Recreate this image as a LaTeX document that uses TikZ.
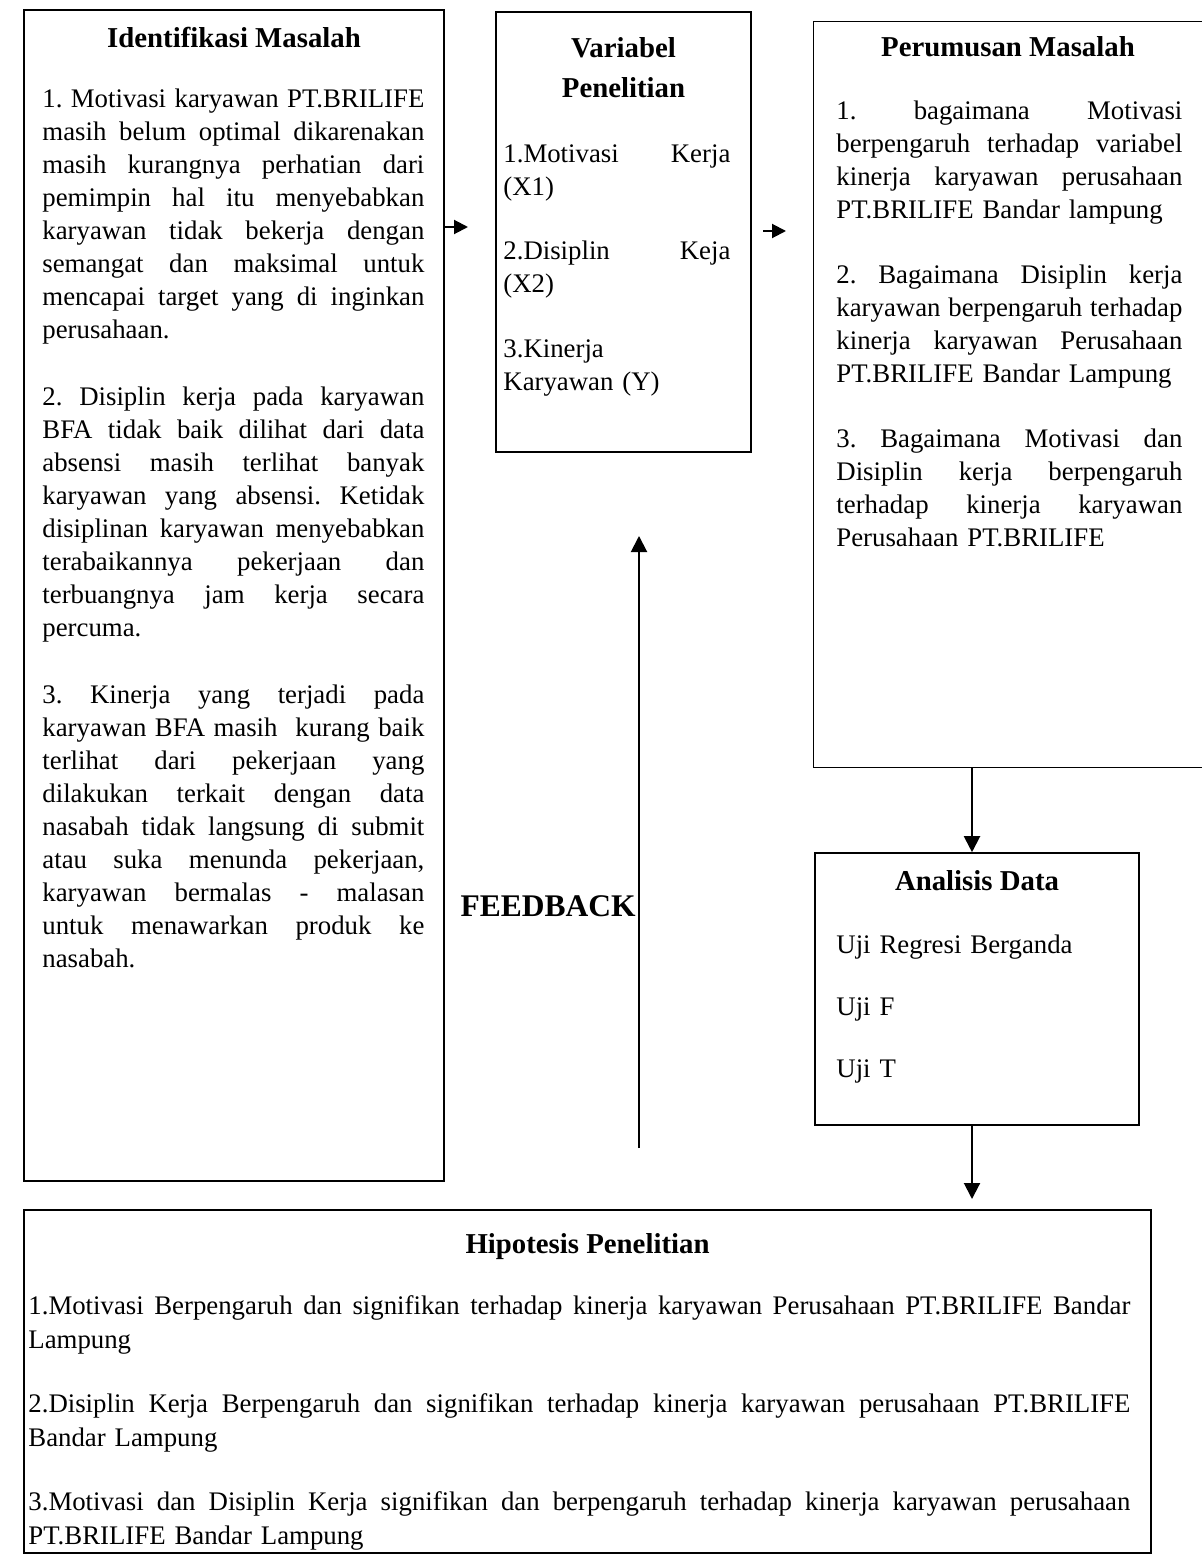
\documentclass[tikz,border=0pt]{standalone}
\usepackage{fontspec}
\setmainfont{Liberation Serif}
\usetikzlibrary{arrows.meta,fit}
\newdimen\lw
\def\jlsplit#1 #2\jlend{#1\if\relax\detokenize{#2}\relax\else\hfil\jlsplit#2\jlend\fi}
\newcommand\JL[1]{\hbox to\lw{\strut\jlsplit#1 \jlend}}
\newcommand\LL[1]{\hbox to\lw{\strut #1\hfil}}
\newcommand\bodyfont{\fontsize{13.4pt}{16.5pt}\selectfont\frenchspacing}
\newcommand\hipfont{\fontsize{13.4pt}{17pt}\selectfont\frenchspacing}
\newcommand\headfont{\fontsize{14.4pt}{16.5pt}\selectfont\bfseries}
\begin{document}
\begin{tikzpicture}[x=0.5pt,y=-0.5pt,
  boxline/.style={draw=black, line width=0.8pt},
  frame/.style={boxline, inner sep=0pt},
  head/.style={font=\headfont, anchor=base, inner sep=0pt},
  body/.style={font=\bodyfont, anchor=north west, inner sep=0pt, text width=#1},
  arr/.style={line width=1pt, -{Triangle[length=8pt,width=8pt]}},
  sarr/.style={line width=1pt, -{Triangle[length=7pt,width=7pt]}}]
\useasboundingbox (0,0) rectangle (1202,1562);
\fill[white] (0,0) rectangle (1202,1562);

% boxes
\node[frame, fit={(24,10)(444,1181)}] (b1) {};
\node[frame, fit={(496,12)(751,452)}] (b2) {};
\node[fit={(814,22)(1202,767)}, inner sep=0pt] (b3) {};
\draw[boxline] (b3.north east) -- (b3.north west) -- (b3.south west) -- (b3.south east);
\node[frame, fit={(815,853)(1139,1125)}] (b4) {};
\node[frame, fit={(24,1210)(1151,1553)}] (b5) {};

% headings
\node[head] (h1) at (234,48) {Identifikasi Masalah};
\node[head] (h2a) at (623.5,58) {Variabel};
\node[head] (h2b) at (623.5,98) {Penelitian};
\node[head] (h3) at (1008,57) {Perumusan Masalah};
\node[head] (h4) at (977,890) {Analisis Data};
\node[head] (h5) at (587.5,1253) {Hipotesis Penelitian};

% bodies
\global\lw=191pt
\node[body=191pt] (t1) at (42,84) {%
\JL{1. Motivasi karyawan PT.BRILIFE}
\JL{masih belum optimal dikarenakan}
\JL{masih kurangnya perhatian dari}
\JL{pemimpin hal itu menyebabkan}
\JL{karyawan tidak bekerja dengan}
\JL{semangat dan maksimal untuk}
\JL{mencapai target yang di inginkan}
\LL{perusahaan.}
\vskip 17pt
\JL{2. Disiplin kerja pada karyawan}
\JL{BFA tidak baik dilihat dari data}
\JL{absensi masih terlihat banyak}
\JL{karyawan yang absensi. Ketidak}
\JL{disiplinan karyawan menyebabkan}
\JL{terabaikannya pekerjaan dan}
\JL{terbuangnya jam kerja secara}
\LL{percuma.}
\vskip 17pt
\JL{3. Kinerja yang terjadi pada}
\JL{karyawan BFA masih\ \ kurang baik}
\JL{terlihat dari pekerjaan yang}
\JL{dilakukan terkait dengan data}
\JL{nasabah tidak langsung di submit}
\JL{atau suka menunda pekerjaan,}
\JL{karyawan bermalas - malasan}
\JL{untuk menawarkan produk ke}
\LL{nasabah.}};

\global\lw=113.5pt
\node[body=113.5pt] (t2) at (503,139) {%
\JL{1.Motivasi Kerja}
\LL{(X1)}
\vskip 15.75pt
\JL{2.Disiplin Keja}
\LL{(X2)}
\vskip 15.75pt
\LL{3.Kinerja}
\LL{Karyawan (Y)}};

\global\lw=173pt
\node[body=173pt] (t3) at (836,96) {%
\JL{1. bagaimana Motivasi}
\JL{berpengaruh terhadap variabel}
\JL{kinerja karyawan perusahaan}
\LL{PT.BRILIFE Bandar lampung}
\vskip 16pt
\JL{2. Bagaimana Disiplin kerja}
\JL{karyawan berpengaruh terhadap}
\JL{kinerja karyawan Perusahaan}
\LL{PT.BRILIFE Bandar Lampung}
\vskip 16pt
\JL{3. Bagaimana Motivasi dan}
\JL{Disiplin kerja berpengaruh}
\JL{terhadap kinerja karyawan}
\LL{Perusahaan PT.BRILIFE}};

\global\lw=140pt
\node[body=140pt] (t4) at (836,930) {%
\LL{Uji Regresi Berganda}
\vskip 14.5pt
\LL{Uji F}
\vskip 14.5pt
\LL{Uji T}};

\global\lw=551pt
\node[body=551pt, font=\hipfont] (t5) at (28,1290) {%
\JL{1.Motivasi Berpengaruh dan signifikan terhadap kinerja karyawan Perusahaan PT.BRILIFE Bandar}
\LL{Lampung}
\vskip 15pt
\JL{2.Disiplin Kerja Berpengaruh dan signifikan terhadap kinerja karyawan perusahaan PT.BRILIFE}
\LL{Bandar Lampung}
\vskip 15pt
\JL{3.Motivasi dan Disiplin Kerja signifikan dan berpengaruh terhadap kinerja karyawan perusahaan}
\LL{PT.BRILIFE Bandar Lampung}};

% connectors
\coordinate (a1e) at (468,227);
\draw[sarr] (b1.east |- a1e) -- (a1e);
\coordinate (a2s) at (763,231);
\coordinate (a2e) at (786,231);
\draw[sarr] (a2s) -- (a2e);
\coordinate (dx) at (972,0);
\draw[arr] (b3.south -| dx) -- (b4.north -| dx);
\coordinate (d2e) at (972,1199);
\draw[arr] (b4.south -| dx) -- (d2e);
\coordinate (fbs) at (639,1148);
\coordinate (fbe) at (639,536);
\draw[arr] (fbs) -- (fbe);
\node[font=\fontsize{15.75pt}{18pt}\selectfont\bfseries, anchor=base east, inner sep=0pt] (fb) at (636,916) {FEEDBACK};
\end{tikzpicture}
\end{document}
